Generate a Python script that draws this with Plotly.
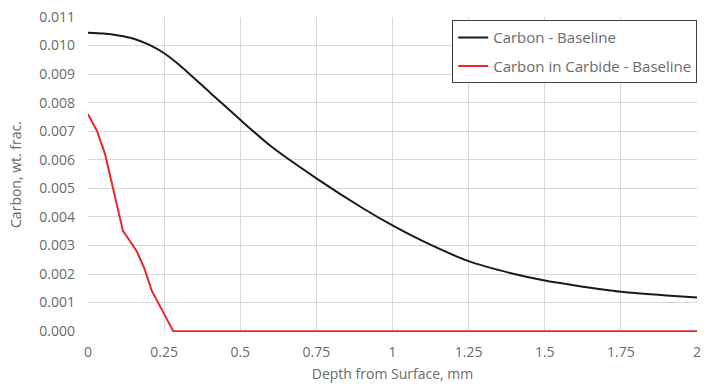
import plotly.graph_objects as go

depth_black = [0.0, 0.05, 0.1, 0.15, 0.2, 0.25, 0.3, 0.4, 0.5, 0.6, 0.75, 0.9, 1.0, 1.1, 1.25, 1.4, 1.5, 1.6, 1.75, 1.9, 2.0]
carbon_black = [0.01045, 0.01042, 0.01035, 0.01024, 0.01003, 0.00973, 0.00932, 0.00836, 0.00740, 0.00648, 0.00535, 0.00432, 0.00370, 0.00315, 0.00245, 0.00200, 0.00177, 0.00160, 0.00138, 0.00125, 0.00118]

depth_red = [0.0, 0.03, 0.056, 0.082, 0.115, 0.135, 0.16, 0.185, 0.21, 0.245, 0.28, 0.5, 1.0, 1.5, 2.0]
carbon_red = [0.0076, 0.0070, 0.0062, 0.0050, 0.0035, 0.0032, 0.0028, 0.0022, 0.0014, 0.0007, 0.0, 0.0, 0.0, 0.0, 0.0]

x_ticks = [0, 0.25, 0.5, 0.75, 1, 1.25, 1.5, 1.75, 2]
x_tick_labels = ["0", "0.25", "0.5", "0.75", "1", "1.25", "1.5", "1.75", "2"]

font_family = "Open Sans, Liberation Sans, sans-serif"
grey = "#6b6b6b"
fs = 14

fig = go.Figure()
fig.add_trace(go.Scatter(x=depth_black, y=carbon_black, mode="lines", name="Carbon - Baseline",
                         legendgroup="a",
                         line=dict(color="#1a1a1a", width=2, shape="spline", smoothing=0.6)))
fig.add_trace(go.Scatter(x=depth_red, y=carbon_red, mode="lines", name="Carbon in Carbide - Baseline",
                         legendgroup="b",
                         line=dict(color="#e8262b", width=2)))

fig.update_layout(
    width=711, height=389,
    margin=dict(l=88, r=14, t=17, b=57),
    paper_bgcolor="white", plot_bgcolor="white",
    font=dict(family=font_family, size=fs, color=grey),
    legend=dict(x=0.598, y=0.99, xanchor="left", yanchor="top",
                bordercolor="#404040", borderwidth=1, bgcolor="white",
                font=dict(size=15, color=grey), itemwidth=30,
                traceorder="grouped", tracegroupgap=6),
    xaxis=dict(range=[0, 2], tickvals=x_ticks, ticktext=x_tick_labels,
               automargin=False,
               showgrid=True, gridcolor="#d9d9d9", gridwidth=1, zeroline=False,
               showline=False,
               tickfont=dict(size=fs, color=grey), ticklabelstandoff=10,
               title=dict(text="Depth from Surface, mm", font=dict(size=fs, color=grey), standoff=9)),
    yaxis=dict(range=[-0.00003, 0.011], tickvals=[i * 0.001 for i in range(12)], tickformat=".3f",
               automargin=False,
               showgrid=True, gridcolor="#d9d9d9", gridwidth=1, zeroline=False,
               showline=False, ticks="",
               tickfont=dict(size=fs, color=grey), ticklabelstandoff=12,
               title=dict(text="Carbon, wt. frac.", font=dict(size=fs, color=grey), standoff=14)),
)

fig.write_html("out.html")
